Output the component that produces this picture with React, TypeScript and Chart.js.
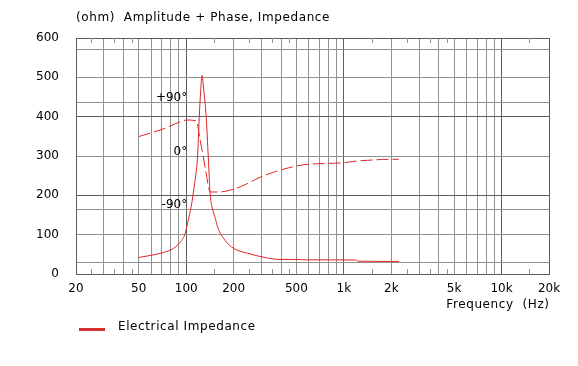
import React, { useEffect, useRef } from "react";
import { Chart, registerables } from "chart.js";

Chart.register(...registerables);

const FONT = '"DejaVu Sans", Verdana, sans-serif';

// Impedance magnitude (ohm) vs frequency (Hz)
const impedanceFreq = [50, 59, 72, 83, 92, 98.5, 103, 107.5, 113, 118, 121, 123.5, 126, 129, 134, 138, 142, 145, 154, 158, 176, 200, 244, 315, 393, 500, 580, 1190, 1220, 2240];
const impedanceOhm = [42, 47, 55, 65, 82, 103, 137, 171, 230, 298, 398, 465, 505, 470, 398, 298, 200, 175, 137, 120, 86, 65, 53, 42, 37, 37, 36, 35.5, 32.5, 32];

// Phase (degrees) vs frequency (Hz)
const phaseFreq = [50, 70, 92, 101, 114, 117, 122, 128, 134, 139, 143, 162, 189, 226, 294, 363, 446, 550, 630, 994, 1160, 1410, 1930, 2230];
const phaseDeg = [33, 45, 58, 61, 60, 57, 30, 0, -30, -55, -61, -61, -58, -51, -36, -27, -20, -15, -13.6, -11.4, -9, -7.3, -5.6, -5.6];

const xLabelValues = [20, 50, 100, 200, 500, 1000, 2000, 5000, 10000, 20000];
const xGridValues = [20, 30, 40, 50, 60, 70, 80, 90, 100, 200, 300, 400, 500, 600, 700, 800, 900, 1000, 2000, 3000, 4000, 5000, 6000, 7000, 8000, 9000, 10000, 20000];
const xDarkValues = [100, 1000, 10000];
const xMinorTicks = [25, 35, 45, 150, 250, 350, 450, 1500, 2500, 3500, 4500, 15000];
const yTicks = [0, 100, 200, 300, 400, 500, 600];
const yDarkValues = [200, 400];
const phaseGrid = [-180, -90, 0, 90, 180];
const phaseLabelValues = [90, 0, -90];
const phaseLabelText = ["+90°", "0°", "-90°"];

const titleText = "(ohm)  Amplitude + Phase, Impedance";
const xAxisTitle = "Frequency  (Hz)";
const seriesName = "Electrical Impedance";

const LIGHT = "#919191";
const DARK = "#5e5e5e";
const RED = "rgb(224,36,36)";
const LEGEND_RED = "rgb(214,48,48)";

function fmtFreq(v: number): string {
  if (v >= 1000) return v / 1000 + "k";
  return String(v);
}

const decorPlugin = {
  id: "decor",
  beforeDatasetsDraw(chart: any) {
    const { ctx, chartArea, scales } = chart;
    const xs = scales.x;
    ctx.save();
    ctx.strokeStyle = DARK;
    ctx.lineWidth = 1;
    ctx.strokeRect(
      Math.round(chartArea.left) + 0.5,
      Math.round(chartArea.top) + 0.5,
      Math.round(chartArea.right - chartArea.left),
      Math.round(chartArea.bottom - chartArea.top)
    );
    ctx.strokeStyle = LIGHT;
    ctx.beginPath();
    for (const v of xMinorTicks) {
      const px = Math.round(xs.getPixelForValue(v)) + 0.5;
      ctx.moveTo(px, chartArea.top);
      ctx.lineTo(px, chartArea.top + 5);
      ctx.moveTo(px, chartArea.bottom);
      ctx.lineTo(px, chartArea.bottom - 5);
    }
    ctx.stroke();
    ctx.restore();
  },
  afterDraw(chart: any) {
    const { ctx, chartArea, scales } = chart;
    ctx.save();
    ctx.font = `12px ${FONT}`;
    ctx.fillStyle = "#000";
    ctx.textBaseline = "alphabetic";
    const x100 = scales.x.getPixelForValue(100);
    ctx.textAlign = "right";
    phaseLabelValues.forEach((v, i) => {
      ctx.fillText(phaseLabelText[i], x100 + 1, scales.y2.getPixelForValue(v) - 1.5);
    });
    (ctx as any).letterSpacing = "0.6px";
    ctx.textAlign = "left";
    ctx.fillText(titleText, chartArea.left, 21);
    ctx.textAlign = "right";
    ctx.fillText(xAxisTitle, chartArea.right + 0.6, 308);
    ctx.fillStyle = LEGEND_RED;
    ctx.fillRect(79, 328, 26, 3);
    ctx.fillStyle = "#000";
    ctx.textAlign = "left";
    ctx.fillText(chart.data.datasets[0].label, 118, 330);
    ctx.restore();
  },
};

export default function App() {
  const ref = useRef<HTMLCanvasElement | null>(null);
  useEffect(() => {
    if (!ref.current) return;
    const chart = new Chart(ref.current, {
      type: "line",
      data: {
        datasets: [
          {
            label: seriesName,
            data: impedanceFreq.map((f, i) => ({ x: f, y: impedanceOhm[i] })),
            borderColor: RED,
            borderWidth: 1,
            pointRadius: 0,
            cubicInterpolationMode: "monotone",
            yAxisID: "y",
          },
          {
            label: "Phase",
            data: phaseFreq.map((f, i) => ({ x: f, y: phaseDeg[i] })),
            borderColor: RED,
            borderWidth: 1,
            borderDash: [12, 4],
            pointRadius: 0,
            cubicInterpolationMode: "monotone",
            yAxisID: "y2",
          },
        ],
      },
      options: {
        animation: false,
        responsive: false,
        devicePixelRatio: 1,
        layout: { padding: { top: 38, right: 29, left: 0, bottom: 0 } },
        plugins: { legend: { display: false }, tooltip: { enabled: false }, title: { display: false } },
        scales: {
          x: {
            type: "logarithmic",
            min: 20,
            max: 20000,
            position: "bottom",
            afterBuildTicks: (s: any) => {
              s.ticks = xGridValues.map((v) => ({ value: v }));
            },
            afterFit: (s: any) => {
              s.height = 92;
            },
            grid: {
              drawTicks: false,
              lineWidth: 1,
              color: (c: any) => (c.tick && xDarkValues.includes(c.tick.value) ? DARK : LIGHT),
            },
            border: { display: false },
            ticks: {
              autoSkip: false,
              maxRotation: 0,
              padding: 8,
              color: "#000",
              font: { family: FONT, size: 12 },
              callback: (v: any) => (xLabelValues.includes(Number(v)) ? fmtFreq(Number(v)) : ""),
            },
          },
          y: {
            type: "linear",
            min: 0,
            max: 600,
            position: "left",
            afterBuildTicks: (s: any) => {
              s.ticks = yTicks.map((v) => ({ value: v }));
            },
            afterFit: (s: any) => {
              s.width = 76;
            },
            grid: {
              drawTicks: false,
              lineWidth: 1,
              color: (c: any) => (c.tick && yDarkValues.includes(c.tick.value) ? DARK : LIGHT),
            },
            border: { display: false },
            ticks: { padding: 17, color: "#000", font: { family: FONT, size: 12 } },
          },
          y2: {
            type: "linear",
            min: -200,
            max: 200,
            position: "right",
            afterBuildTicks: (s: any) => {
              s.ticks = phaseGrid.map((v) => ({ value: v }));
            },
            afterFit: (s: any) => {
              s.width = 0;
            },
            grid: { drawTicks: false, lineWidth: 1, color: LIGHT },
            border: { display: false },
            ticks: { display: false },
          },
        },
      },
      plugins: [decorPlugin],
    } as any);
    return () => chart.destroy();
  }, []);
  return (
    <div style={{ position: "absolute", left: 0, top: 0, width: 578, height: 366, background: "#fff" }}>
      <canvas ref={ref} width={578} height={366} style={{ width: 578, height: 366, display: "block" }} />
    </div>
  );
}
